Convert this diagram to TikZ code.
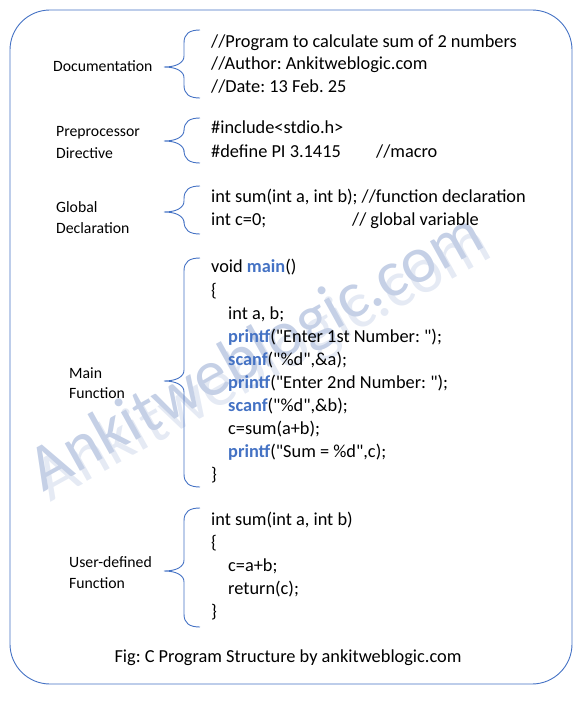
\documentclass[tikz,border=0pt]{standalone}
\usepackage{fontspec}
\setmainfont{Carlito}[Ligatures=TeXOff]
\usetikzlibrary{positioning}
\definecolor{framecol}{HTML}{4472C4}
\definecolor{kwcol}{HTML}{4472C4}
\definecolor{markcol}{HTML}{C5D0E6}
\newcommand{\kw}[1]{\textcolor{kwcol}{\textbf{#1}}}
% curly brace: top y, tip y, bottom y
\newcommand{\codebrace}[3]{%
  \draw[curly] (200,#1)
    .. controls (189,#1) and (184,#1+4) .. (184,#1+13)
    -- (184,#2-11)
    .. controls (184,#2-4) and (176,#2) .. (164,#2)
    .. controls (176,#2) and (184,#2+4) .. (184,#2+11)
    -- (184,#3-13)
    .. controls (184,#3-4) and (189,#3) .. (200,#3);
}
\tikzset {
  % one line of code
  code/.style = {
    anchor = base west,
    inner sep = 0,
    font = \fontsize{18.4}{23}\selectfont
  },
  % name of a section
  part/.style = {
    anchor = base west,
    inner sep = 0,
    font = \fontsize{15.8}{20}\selectfont
  },
  curly/.style = {
    draw = framecol,
    line width = 0.9pt
  },
  watermark/.style = {
    rotate = 29,
    inner sep = 0,
    text = markcol,
    font = \fontsize{66}{66}\selectfont
  }
}
\frenchspacing
\begin{document}
\begin{tikzpicture}[x=1bp, y=-1bp]
    \useasboundingbox (0,0) rectangle (583,703);
    \draw[framecol, line width=0.9pt, rounded corners=40bp] (10,10) rectangle (572,684);

    % watermark
    \node[watermark, text=markcol!45] (wm shadow) at (264,364) {Ankitweblogic.com};
    \node[watermark] (wm) at (257,354) {Ankitweblogic.com};

    % documentation
    \node[part] (doc) at (53,72) {Documentation};
    \codebrace{30}{67}{98}
    \node[code] (doc 1) at (211,48) {//Program to calculate sum of 2 numbers};
    \node[code] (doc 2) at (211,70) {//Author: Ankitweblogic.com};
    \node[code] (doc 3) at (211,93) {//Date: 13 Feb. 25};

    % preprocessor
    \node[part] (pre a) at (56,137) {Preprocessor};
    \node[part] (pre b) at (56,158) {Directive};
    \codebrace{118}{141}{163}
    \node[code] (pre 1) at (211,134) {\#include<stdio.h>};
    \node[code] (pre 2) at (211,157) {\#define PI 3.1415};
    \node[code] (pre 2c) at (376,157) {//macro};

    % global declaration
    \node[part] (glob a) at (56,212) {Global};
    \node[part] (glob b) at (56,233) {Declaration};
    \codebrace{186}{212}{234}
    \node[code] (glob 1) at (211,202) {int sum(int a, int b); //function declaration};
    \node[code] (glob 2) at (211,225) {int c=0;};
    \node[code] (glob 2c) at (352,225) {// global variable};

    % main function
    \node[part] (main a) at (69,378) {Main};
    \node[part] (main b) at (69,398) {Function};
    \codebrace{258}{381}{487}
    \node[code] (main 1) at (211,272) {void \kw{main}()};
    \node[code] (main 2) at (211,296) {\{};
    \node[code] (main 3) at (228,319) {int a, b;};
    \node[code] (main 4) at (228,342) {\kw{printf}("Enter 1st Number: ");};
    \node[code] (main 5) at (228,365) {\kw{scanf}("\%d",\&a);};
    \node[code] (main 6) at (228,388) {\kw{printf}("Enter 2nd Number: ");};
    \node[code] (main 7) at (228,411) {\kw{scanf}("\%d",\&b);};
    \node[code] (main 8) at (228,434) {c=sum(a+b);};
    \node[code] (main 9) at (228,457) {\kw{printf}("Sum = \%d",c);};
    \node[code] (main 10) at (211,480) {\}};

    % user-defined function
    \node[part] (user a) at (69,567) {User-defined};
    \node[part] (user b) at (69,588) {Function};
    \codebrace{508}{571}{627}
    \node[code] (user 1) at (211,525) {int sum(int a, int b)};
    \node[code] (user 2) at (211,548) {\{};
    \node[code] (user 3) at (228,571) {c=a+b;};
    \node[code] (user 4) at (228,594) {return(c);};
    \node[code] (user 5) at (211,617) {\}};

    \node[code, anchor=base] (caption) at (288,662) {Fig: C Program Structure by ankitweblogic.com};
\end{tikzpicture}
\end{document}
